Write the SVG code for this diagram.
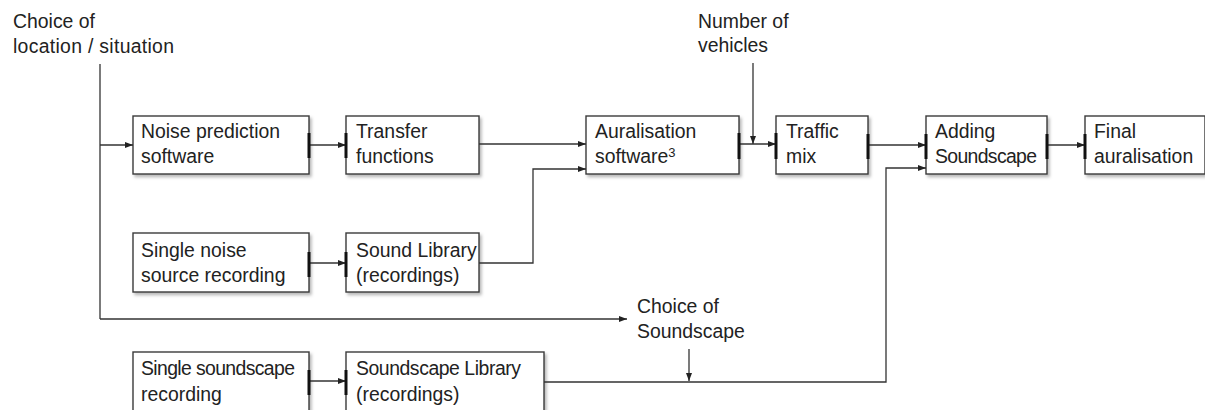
<svg xmlns="http://www.w3.org/2000/svg" width="1205" height="410" viewBox="0 0 1205 410">
<defs>
<filter id="sh" x="-10%" y="-10%" width="130%" height="140%">
<feDropShadow dx="2" dy="2.5" stdDeviation="1.5" flood-color="#000" flood-opacity="0.28"/>
</filter>
<marker id="ah" viewBox="0 0 8 6" refX="8" refY="3" markerWidth="8" markerHeight="6" markerUnits="userSpaceOnUse" orient="auto">
<path d="M0,0 L8,3 L0,6 Z" fill="#222"/>
</marker>
<style>
.box{fill:#fff;stroke:#3a3a3a;stroke-width:1.4;filter:url(#sh)}
.t{font-family:"Liberation Sans",Arial,sans-serif;font-size:19.4px;fill:#222}
.c{fill:none;stroke:#333;stroke-width:1.3}
.ca{fill:none;stroke:#333;stroke-width:1.3;marker-end:url(#ah)}
.bar{stroke:#111;stroke-width:3}
</style>
</defs>
<rect width="1205" height="410" fill="#fff"/>

<g id="label-location">
<text class="t" x="13" y="28">Choice of</text>
<text class="t" x="13" y="53" textLength="161" lengthAdjust="spacing">location / situation</text>
</g>
<g id="label-vehicles">
<text class="t" x="698" y="28">Number of</text>
<text class="t" x="698" y="52">vehicles</text>
</g>
<g id="label-soundscape">
<text class="t" x="637" y="313">Choice of</text>
<text class="t" x="637" y="338">Soundscape</text>
</g>

<g id="node-noise-prediction">
<rect class="box" x="133" y="116" width="176" height="58"/>
<text class="t" x="141" y="138">Noise prediction</text>
<text class="t" x="141" y="163">software</text>
</g>
<g id="node-transfer">
<rect class="box" x="346" y="116" width="133" height="58"/>
<text class="t" x="356" y="138">Transfer</text>
<text class="t" x="356" y="163">functions</text>
</g>
<g id="node-auralisation">
<rect class="box" x="586" y="116" width="153" height="58"/>
<text class="t" x="595" y="138">Auralisation</text>
<text class="t" x="595" y="163">software<tspan font-size="13px" dy="-6">3</tspan></text>
</g>
<g id="node-traffic">
<rect class="box" x="776" y="116" width="92" height="58"/>
<text class="t" x="786" y="138">Traffic</text>
<text class="t" x="786" y="163">mix</text>
</g>
<g id="node-adding">
<rect class="box" x="926" y="116" width="121" height="58"/>
<text class="t" x="935" y="138">Adding</text>
<text class="t" x="935" y="163" textLength="102" lengthAdjust="spacing">Soundscape</text>
</g>
<g id="node-final">
<rect class="box" x="1085" y="116" width="120" height="58"/>
<text class="t" x="1094" y="138">Final</text>
<text class="t" x="1094" y="163">auralisation</text>
</g>
<g id="node-single-noise">
<rect class="box" x="133" y="233" width="176" height="59"/>
<text class="t" x="141" y="257">Single noise</text>
<text class="t" x="141" y="282">source recording</text>
</g>
<g id="node-sound-library">
<rect class="box" x="346" y="233" width="133" height="59"/>
<text class="t" x="356" y="257">Sound Library</text>
<text class="t" x="356" y="282">(recordings)</text>
</g>
<g id="node-single-soundscape">
<rect class="box" x="133" y="352" width="176" height="70"/>
<text class="t" x="141" y="375" textLength="154" lengthAdjust="spacing">Single soundscape</text>
<text class="t" x="141" y="401">recording</text>
</g>
<g id="node-soundscape-library">
<rect class="box" x="346" y="352" width="198" height="70"/>
<text class="t" x="356" y="375" textLength="165" lengthAdjust="spacing">Soundscape Library</text>
<text class="t" x="356" y="401">(recordings)</text>
</g>

<g id="connectors">
<path class="c" d="M100,64 V319"/>
<path class="ca" d="M100,319 H627"/>
<path class="ca" d="M100,145 H133"/>
<path class="ca" d="M309,145 H346"/>
<path class="ca" d="M479,144 H586"/>
<path class="ca" d="M479,263 H533 V169 H586"/>
<path class="ca" d="M739,144 H776"/>
<path class="ca" d="M753,63 V144"/>
<path class="ca" d="M868,145 H926"/>
<path class="ca" d="M1047,145 H1085"/>
<path class="ca" d="M544,382 H886 V168 H926"/>
<path class="ca" d="M689,349 V381"/>
<path class="ca" d="M309,263 H346"/>
<path class="ca" d="M309,381 H346"/>
<line class="bar" x1="309" y1="133" x2="309" y2="158"/>
<line class="bar" x1="346" y1="133" x2="346" y2="158"/>
<line class="bar" x1="739" y1="133" x2="739" y2="159"/>
<line class="bar" x1="776" y1="133" x2="776" y2="159"/>
<line class="bar" x1="868" y1="134" x2="868" y2="159"/>
<line class="bar" x1="926" y1="134" x2="926" y2="159"/>
<line class="bar" x1="1047" y1="134" x2="1047" y2="159"/>
<line class="bar" x1="1085" y1="134" x2="1085" y2="159"/>
<line class="bar" x1="309" y1="252" x2="309" y2="277"/>
<line class="bar" x1="346" y1="252" x2="346" y2="277"/>
<line class="bar" x1="309" y1="370" x2="309" y2="395"/>
<line class="bar" x1="346" y1="370" x2="346" y2="395"/>
</g>
</svg>
